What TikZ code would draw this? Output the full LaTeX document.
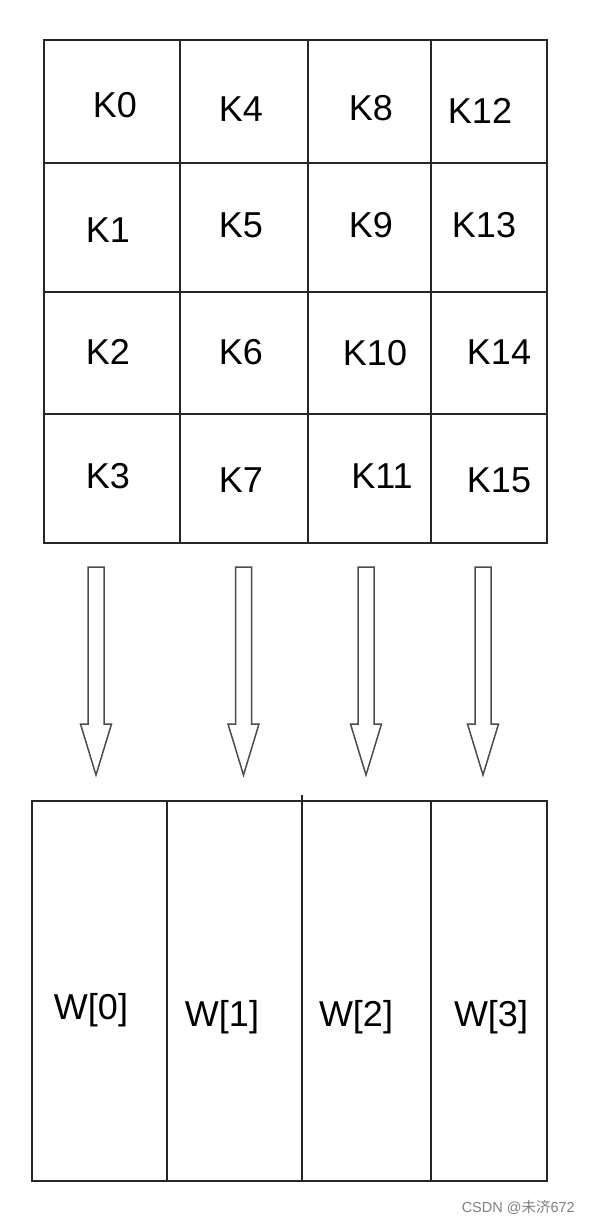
\documentclass[tikz,border=0pt]{standalone}
\usepackage{fontspec}
\setmainfont{Liberation Sans}
\newfontfamily\cjkfont{Noto Sans CJK SC}
\begin{document}
\begin{tikzpicture}[x=1pt,y=-1pt,
  gridline/.style={line width=1.3pt, draw=black!85},
  lbl/.style={inner sep=0pt, font=\fontsize{36}{40}\selectfont, text=black},
  blockarrow/.style={line width=1.5pt, draw=black!70, fill=white, line join=miter},
  wmtext/.style={inner sep=0pt, font=\fontsize{14.5}{16}\selectfont, text=black!50}]
\useasboundingbox (0,0) rectangle (590,1224);
\fill[white] (0,0) rectangle (590,1224);
% top grid
\draw[gridline] (44,40) rectangle (547,543);
\foreach \x in {180,308,431} \draw[gridline] (\x,40) -- (\x,543);
\foreach \y in {163,292,414} \draw[gridline] (44,\y) -- (547,\y);
% labels
\node[lbl] (k0) at (115,105) {K0};
\node[lbl] (k4) at (241,109) {K4};
\node[lbl] (k8) at (371,108) {K8};
\node[lbl] (k12) at (480,111) {K12};
\node[lbl] (k1) at (108,230) {K1};
\node[lbl] (k5) at (241,225) {K5};
\node[lbl] (k9) at (371,225) {K9};
\node[lbl] (k13) at (484,225) {K13};
\node[lbl] (k2) at (108,352) {K2};
\node[lbl] (k6) at (241,352) {K6};
\node[lbl] (k10) at (375,353) {K10};
\node[lbl] (k14) at (499,352) {K14};
\node[lbl] (k3) at (108,476) {K3};
\node[lbl] (k7) at (241,480) {K7};
\node[lbl] (k11) at (382,476) {K11};
\node[lbl] (k15) at (499,480) {K15};
% block arrows
\foreach \c in {96,243.5,366,483}{
  \draw[blockarrow] (\c-8,567) -- (\c+8,567) -- (\c+8,724) -- (\c+15.5,724)
     -- (\c,775) -- (\c-15.5,724) -- (\c-8,724) -- cycle;
}
% bottom boxes
\draw[gridline] (32,801) rectangle (547,1181);
\foreach \x in {167,431} \draw[gridline] (\x,801) -- (\x,1181);
\draw[gridline] (302,795) -- (302,1181);
\node[lbl] (w0) at (91,1010) {W[0]};
\node[lbl] (w1) at (222,1017) {W[1]};
\node[lbl] (w2) at (356,1017) {W[2]};
\node[lbl] (w3) at (491,1017) {W[3]};
% watermark
\node[wmtext, anchor=east] (wm) at (575,1207) {CSDN @{\cjkfont 未济}672};
\end{tikzpicture}
\end{document}
